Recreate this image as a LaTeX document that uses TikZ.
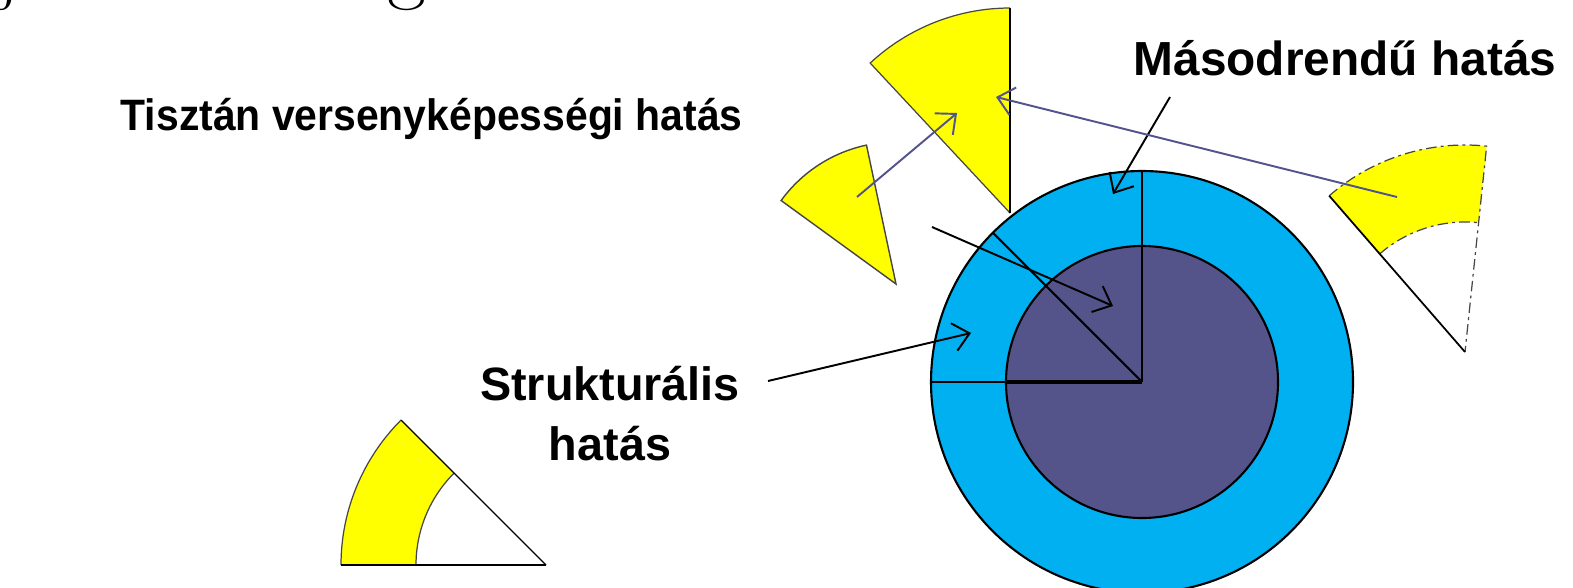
\documentclass[tikz,border=0pt]{standalone}
\usepackage{fontspec}
\usepackage{tikz}
\usetikzlibrary{arrows.meta,calc}
\newfontfamily\labelfont{Liberation Sans}
\newfontfamily\narrowfont[FakeStretch=0.93]{Liberation Sans}
\definecolor{ringblue}{RGB}{0,176,240}
\definecolor{coreslate}{RGB}{84,84,138}
\definecolor{linkslate}{RGB}{82,82,140}
\definecolor{pieyellow}{RGB}{255,255,0}

\begin{document}
\begin{tikzpicture}[x=0.01cm,y=0.01cm,
  lbl/.style={inner sep=0pt,anchor=base west},
  pointer/.style={line width=0.55pt,-{Straight Barb[length=4.5pt,width=8pt]}},
  link/.style={linkslate,line width=0.55pt,-{Straight Barb[length=4.5pt,width=8pt]}},
  rim/.style={gray!55!black,line width=0.35pt},
  dashrim/.style={rim,dash pattern=on 3pt off 1.2pt on 0.8pt off 1.2pt}]
  \useasboundingbox (0,0) rectangle (1573,587);
  \clip (0,0) rectangle (1573,587);

  % cut-off title letters
  \node[inner sep=0pt,anchor=base west,font=\fontsize{24}{26}\selectfont] (titlej) at (-4,594) {j};
  \node[inner sep=0pt,anchor=base west,font=\fontsize{24}{26}\selectfont] (titleg) at (387,594) {g};

  % rings
  \coordinate (core) at (1142,205);
  \filldraw[fill=ringblue,line width=0.6pt] (core) circle (211);
  \filldraw[fill=coreslate,line width=0.6pt] (core) circle (136);
  \draw[line width=0.5pt] (core) -- ++(0,211);
  \draw[line width=0.5pt] (core) -- ++(-211,0);
  \draw[line width=1pt] (core) -- ++(-136,0);
  \draw[line width=0.6pt] (core) -- ++(135:211);

  % big sector
  \coordinate (bigapex) at (1010,374);
  \fill[pieyellow] (bigapex) -- ++(90:205) arc[start angle=90,end angle=133,radius=205] -- cycle;
  \draw[rim] ($(bigapex)+(90:205)$) arc[start angle=90,end angle=133,radius=205] -- (bigapex);
  \draw[line width=0.7pt] (bigapex) -- ++(90:205);

  % small sector
  \coordinate (smallapex) at (896,303);
  \filldraw[fill=pieyellow,draw=gray!55!black,line width=0.4pt] (smallapex) -- ++(102:142)
    arc[start angle=102,end angle=144,radius=142] -- cycle;

  % right ring piece
  \coordinate (farapex) at (1465,235);
  \fill[pieyellow] ($(farapex)+(84:207)$) arc[start angle=84,end angle=131,radius=207]
    -- ($(farapex)+(131:130)$) arc[start angle=131,end angle=84,radius=130] -- cycle;
  \draw[dashrim] ($(farapex)+(131:207)$) arc[start angle=131,end angle=84,radius=207] -- (farapex);
  \draw[dashrim] ($(farapex)+(131:130)$) arc[start angle=131,end angle=84,radius=130];
  \draw[line width=0.5pt] ($(farapex)+(131:207)$) -- (farapex);

  % lower ring piece
  \coordinate (lowapex) at (546,22);
  \fill[pieyellow] ($(lowapex)+(135:205)$) arc[start angle=135,end angle=180,radius=205]
    -- ($(lowapex)+(180:130)$) arc[start angle=180,end angle=135,radius=130] -- cycle;
  \draw[rim] ($(lowapex)+(135:205)$) arc[start angle=135,end angle=180,radius=205];
  \draw[rim] ($(lowapex)+(135:130)$) arc[start angle=135,end angle=180,radius=130];
  \draw[line width=0.5pt] (lowapex) -- ++(180:205);
  \draw[line width=0.4pt] (lowapex) -- ++(135:205);

  % labels
  \node[lbl,font=\narrowfont\bfseries\fontsize{12.5}{14}\selectfont] (pure) at (120,457) {Tisztán versenyképességi hatás};
  \node[lbl,font=\labelfont\bfseries\fontsize{13.6}{15}\selectfont] (second) at (1133,512) {Másodrendű hatás};
  \node[inner sep=0pt,anchor=base,font=\labelfont\bfseries\fontsize{13.3}{15}\selectfont] (structa) at (610,187) {Strukturális};
  \node[inner sep=0pt,anchor=base,font=\labelfont\bfseries\fontsize{13.3}{15}\selectfont] (structb) at (610,127) {hatás};

  % pointers
  \coordinate (secondtail) at (1170,490);
  \coordinate (secondtip) at (1113,393);
  \coordinate (puretail) at (932,360);
  \coordinate (puretip) at (1113,281);
  \coordinate (structtail) at (768,206);
  \coordinate (structtip) at (971,254);
  \draw[pointer] (secondtail) -- (secondtip);
  \draw[pointer] (puretail) -- (puretip);
  \draw[pointer] (structtail) -- (structtip);

  % moves of the pieces
  \coordinate (smallmid) at (857,390);
  \coordinate (bigmid) at (957,474);
  \coordinate (farmid) at (1397,390);
  \coordinate (bigedge) at (996,490);
  \draw[link] (smallmid) -- (bigmid);
  \draw[link] (farmid) -- (bigedge);
\end{tikzpicture}
\end{document}
